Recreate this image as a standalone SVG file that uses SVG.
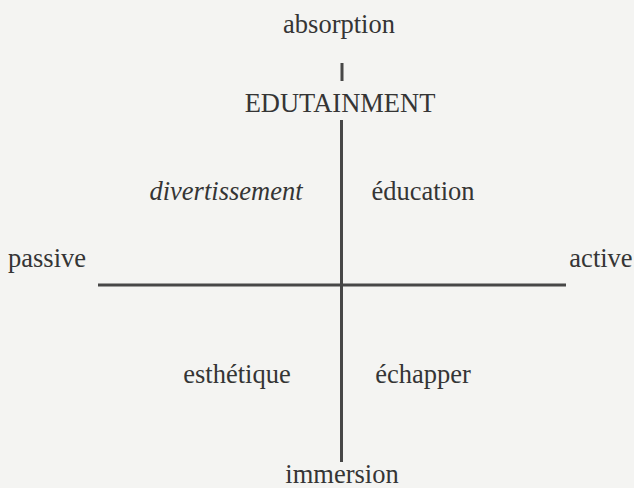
<svg xmlns="http://www.w3.org/2000/svg" width="634" height="488" viewBox="0 0 634 488">
<style>
.t{font-family:"Liberation Serif","Times New Roman",serif;font-size:26.5px;fill:#353535}
.m{text-anchor:middle}
.ax{stroke:#474747;stroke-width:3;fill:none}
</style>
<rect width="634" height="488" fill="#f4f4f2"/>
<g id="connectors">
<line class="ax" x1="342" y1="63" x2="342" y2="81"/>
<line class="ax" x1="341.5" y1="120" x2="341.5" y2="462"/>
<line class="ax" x1="98" y1="285" x2="566" y2="285"/>
</g>
<g id="absorption"><text class="t m" x="339" y="33">absorption</text></g>
<g id="edutainment"><text class="t m" x="340" y="112">EDUTAINMENT</text></g>
<g id="divertissement"><text class="t m" x="226" y="200" font-style="italic">divertissement</text></g>
<g id="education"><text class="t m" x="423" y="200">éducation</text></g>
<g id="passive"><text class="t" x="8" y="267">passive</text></g>
<g id="active"><text class="t m" x="601" y="267">active</text></g>
<g id="esthetique"><text class="t m" x="237" y="383">esthétique</text></g>
<g id="echapper"><text class="t m" x="423" y="383">échapper</text></g>
<g id="immersion"><text class="t m" x="342" y="483">immersion</text></g>
</svg>
